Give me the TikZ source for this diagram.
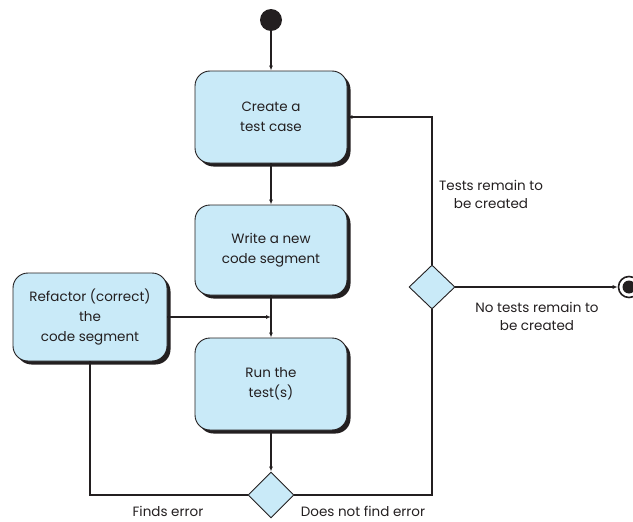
\documentclass[tikz,border=0pt]{standalone}
\usepackage{fontspec}
\setmainfont{Poppins}
\usetikzlibrary{shapes.geometric,arrows.meta,shadows}
\definecolor{boxfill}{HTML}{C9EAF8}
\definecolor{ink}{HTML}{231F20}
\tikzset{
  act/.style={draw=ink, line width=0.9pt, fill=boxfill, rounded corners=15pt,
    minimum width=152pt, align=center, text=ink, font=\fontsize{13.5}{20}\selectfont,
    general shadow={fill=ink, shadow xshift=3.5pt, shadow yshift=-3.5pt}},
  dec/.style={diamond, draw=ink, line width=0.9pt, fill=boxfill, minimum width=46pt,
    minimum height=46pt, inner sep=0pt},
  flow/.style={draw=ink, line width=1.3pt, -{Latex[length=5pt,width=4pt]}},
  plain/.style={draw=ink, line width=1.3pt},
  lbl/.style={text=ink, align=center, font=\fontsize{13.5}{18}\selectfont}
}
\begin{document}
\begin{tikzpicture}[x=1pt,y=-1pt]
\useasboundingbox (0,0) rectangle (633,522);
\node[circle, fill=ink, minimum size=22pt, inner sep=0pt] (start) at (271,20) {};
\node[act, minimum height=92pt] (b1) at (271,117) {Create a\\test case};
\node[act, minimum height=90pt] (b2) at (271,250) {Write a new\\code segment};
\node[act, minimum height=92pt] (b3) at (271,384) {Run the\\test(s)};
\node[act, minimum width=154pt, minimum height=88pt] (ref) at (90,317) {Refactor (correct)\\the\\code segment};
\node[dec] (d2) at (271,495) {};
\node[dec, minimum height=44pt] (d1) at (432,287) {};
\node[circle, draw=ink, line width=1.6pt, fill=white, minimum size=21pt, inner sep=0pt] (end) at (629,287) {};
\node[circle, fill=ink, minimum size=13pt, inner sep=0pt] (endin) at (629,287) {};
\draw[flow] (start) -- (b1);
\draw[flow] (b1) -- (b2);
\draw[flow] (b2) -- (b3);
\draw[flow] (ref.east) -- (ref.east -| b2.south);
\draw[flow] (b3) -- (d2);
\draw[plain] (d2.west) -| (ref.south);
\draw[plain] (d2.east) -| (d1.south);
\draw[flow] (d1.north) |- (b1.east);
\draw[flow] (d1.east) -- (end.west);
\node[lbl] (l1) at (491,194) {Tests remain to\\be created};
\node[lbl] (l2) at (537,316) {No tests remain to\\be created};
\node[lbl] (l3) at (168,511) {Finds error};
\node[lbl] (l4) at (363,511) {Does not find error};
\end{tikzpicture}
\end{document}
